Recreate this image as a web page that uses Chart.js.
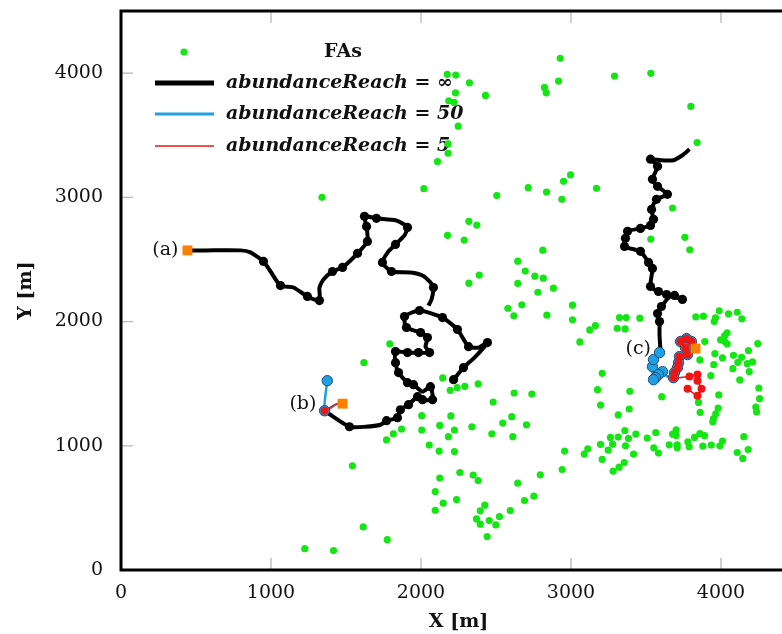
<!DOCTYPE html>
<html>
<head>
<meta charset="utf-8">
<script src="https://cdn.jsdelivr.net/npm/chart.js@4.4.1/dist/chart.umd.min.js"></script>
<style>
  html, body { margin: 0; padding: 0; overflow: hidden; background: #fff; }
  canvas { display: block; }
</style>
</head>
<body>
<canvas id="trajChart" width="820" height="634"></canvas>
<script>
// Axis ticks
const xTicks = [0, 1000, 2000, 3000, 4000];
const yTicks = [0, 1000, 2000, 3000, 4000];

// Foraging areas (FAs), [x, y] in metres
const faPoints = [
  [1340,3000],
  [2175,3990],[2232,3984],[2323,3922],[2230,3841],[2430,3820],[2185,3777],[2221,3764],[2248,3573],
  [2181,3430],[2181,3355],[2110,3288],[2019,3070],[2505,3014],[2715,3078],[2837,3043],[2939,2984],
  [2950,3129],[2997,3180],[3170,3073],[2928,4119],[2917,3936],[2823,3885],[2835,3841],[3290,3976],
  [2319,2807],[2372,2777],[2177,2694],[2288,2656],[2812,2575],[2645,2486],[2695,2406],[2759,2365],
  [2815,2349],[2388,2374],[2319,2309],[2645,2307],[2779,2236],[2883,2269],
  [3532,3998],[3799,3732],[3841,3441],[3677,2914],[3532,2664],[3759,2678],[3792,2578],
  [2579,2107],[2672,2135],[2619,2046],[2839,2051],[3010,2132],[3010,2014],[3125,1933],[3163,1968],
  [3059,1836],[3323,2032],[3368,2032],[3308,1946],[3361,1941],[3459,2027],[1792,1820],[2145,1546],
  [2195,1446],[2241,1468],[2292,1478],[2381,1498],[2481,1352],[2621,1425],[2739,1417],[2005,1242],
  [2199,1240],[2125,1164],[2223,1127],[2183,1073],[2005,1127],[2339,1153],[2545,1183],[2605,1234],
  [2703,1169],[2472,1097],[2612,1073],[1870,1135],[1815,1097],[1770,1048],[2055,1006],[2121,957],
  [2223,954],[2957,957],[2941,809],[2795,766],[2645,699],[2259,785],[2348,764],[2381,720],
  [2125,740],[2095,631],[2148,538],[2237,567],[2095,481],[2425,522],[2395,476],[2370,411],
  [2395,369],[2455,398],[2523,430],[2499,363],[2595,478],[2690,559],[2752,594],[2441,269],
  [1775,244],[3208,1583],[3177,1452],[3197,1328],[3392,1438],[3388,1296],[3315,1248],[3359,1123],
  [3432,1094],[3263,1067],[3315,1070],[3383,1059],[3277,1014],[3248,965],[3363,1000],[3417,933],
  [3197,1011],[3112,976],[3088,933],[3208,890],[3355,865],[3321,828],[3281,796],
  [3832,2038],[3883,2043],[3988,2086],[3963,2030],[3955,2000],[4050,2062],[4108,2075],[4139,2022],
  [3892,1839],[4041,1909],[4025,1887],[3997,1853],[4023,1841],[4041,1820],[4245,1823],[3859,1691],
  [3959,1742],[4010,1707],[3952,1653],[4083,1728],[4137,1712],[4112,1672],[4183,1766],[4210,1675],
  [4175,1661],[4079,1621],[4188,1597],[3932,1565],[4125,1530],[4252,1465],[4257,1379],[3985,1409],
  [3605,1395],[3850,1349],[3981,1304],[3861,1269],[3965,1258],[3950,1218],[3945,1194],[4232,1312],
  [4237,1272],[3508,1062],[3565,1107],[3552,984],[3583,941],[3655,1008],[3677,1094],[3701,1129],
  [3701,1083],[3708,1008],[3708,984],[3779,1032],[3788,992],[3823,1067],[3859,1099],[3890,1081],
  [3879,998],[3935,1006],[3992,1000],[4010,1038],[4152,1073],[4181,970],[4108,946],[4145,898],
  [1619,1669],[1543,839],[1615,347],[1225,172],[1417,156]
];

// Start positions (orange squares) and their labels
const startPoints = [[443,2573],[1477,1339],[3830,1782]];
const startLabels = ['(a)', '(b)', '(c)'];
const labelAnchors = [[383,2573],[1303,1339],[3533,1782]];

// abundanceReach = infinity (black), three trajectories
const infPathA = [
  [443,2573],[563,2573],[797,2573],[863,2557],[950,2484],[997,2403],[1063,2290],[1150,2274],
  [1243,2202],[1323,2169],[1323,2274],[1350,2339],[1410,2403],[1477,2436],[1530,2492],[1577,2549],
  [1643,2645],[1637,2766],[1623,2847],[1703,2831],[1830,2815],[1877,2790],[1910,2758],[1890,2694],
  [1830,2621],[1783,2565],[1743,2476],[1803,2403],[1930,2395],[2010,2371],[2063,2315],[2083,2274],
  [2070,2178],[2050,2129]
];
const infMarksA = [4,6,8,9,12,13,15,16,17,18,19,22,24,26,27,31];

const infPathB = [
  [1357,1282],[1523,1153],[1630,1153],[1730,1169],[1770,1202],[1843,1226],[1863,1290],[1917,1331],
  [1977,1395],[2010,1371],[2077,1371],[2063,1476],[2010,1436],[1950,1492],[1910,1508],[1850,1589],
  [1830,1669],[1830,1758],[1910,1750],[1983,1750],[2057,1750],[2030,1798],[2043,1871],[1997,1911],
  [1903,1952],[1890,2040],[1990,2089],[2143,2032],[2243,1936],[2317,1798],[2383,1790],[2443,1831],
  [2363,1718],[2283,1629],[2217,1532]
];
const infMarksB = [1,4,5,6,7,8,9,10,11,13,14,15,16,17,18,19,20,22,23,24,25,26,27,28,29,31,33,34];

const infPathC = [
  [3790,3387],[3743,3339],[3683,3299],[3597,3299],[3530,3307],[3577,3250],[3543,3145],[3577,3089],
  [3643,3024],[3570,2984],[3537,2903],[3550,2823],[3530,2774],[3463,2750],[3377,2726],[3363,2670],
  [3357,2605],[3463,2565],[3517,2476],[3543,2428],[3530,2282],[3583,2242],[3637,2218],[3690,2210],
  [3743,2178],[3663,2202],[3603,2121],[3577,2065],[3590,2000],[3590,1895],[3597,1758]
];
const infMarksC = [4,5,6,7,8,9,10,11,12,13,14,15,16,17,18,19,20,21,22,23,24,26,27,28];

// abundanceReach = 50 (blue)
const r50PathB = [[1477,1339],[1437,1335],[1357,1282],[1375,1524]];
const r50MarksB = [2,3];
const r50PathC = [
  [3830,1782],[3803,1839],[3770,1863],[3730,1839],[3763,1790],[3777,1734],[3723,1718],[3717,1669],
  [3710,1629],[3690,1589],[3683,1548],[3643,1557],[3610,1597],[3583,1573],[3563,1548],[3550,1532],
  [3543,1637],[3550,1694],[3590,1750]
];
const r50MarksC = [1,2,3,4,5,6,7,8,9,10,12,13,14,15,16,17,18];

// abundanceReach = 5 (red)
const r5PathB = [[1477,1339],[1437,1335],[1357,1282]];
const r5MarksB = [2];
const r5PathC = [
  [3830,1782],[3803,1839],[3770,1863],[3730,1839],[3763,1790],[3777,1734],[3723,1718],[3717,1669],
  [3710,1629],[3690,1589],[3683,1548],[3790,1557],[3843,1573],[3843,1524],[3870,1460],[3843,1403],
  [3777,1460]
];
const r5MarksC = [1,2,3,4,5,6,7,8,9,10,11,12,13,14,15,16];

const legendLabels = ['FAs', 'abundanceReach = \u221E', 'abundanceReach = 50', 'abundanceReach = 5'];

const GREEN = '#14e614';
const BLUE = '#1fa0e2';
const RED = '#ee1515';
const ORANGE = '#ff8000';
const SERIF = '"DejaVu Serif", "Liberation Serif", serif';

const toXY = pts => pts.map(([x, y]) => ({ x, y }));

function pathSet(pts, marks, opts) {
  return {
    data: toXY(pts),
    showLine: true,
    borderColor: opts.color,
    borderWidth: opts.width,
    tension: 0.2,
    pointRadius: ctx => marks.includes(ctx.dataIndex) ? opts.r : 0,
    pointBackgroundColor: opts.fill || opts.color,
    pointBorderColor: opts.edge || opts.color,
    pointBorderWidth: opts.edgeW || 0,
    order: opts.order
  };
}

const blackOpts = { color: '#000', width: 4, r: 4.6, order: 3 };
const blueOpts = { color: BLUE, width: 2.5, r: 5.2, edge: '#1c4d78', edgeW: 1, order: 2 };
const redOpts = { color: RED, width: 1.5, r: 4, order: 1 };

const datasets = [
  { data: toXY(startPoints), pointStyle: 'rect', pointRadius: 7, backgroundColor: ORANGE, borderWidth: 0, order: 0 },
  pathSet(r5PathB, r5MarksB, redOpts),
  pathSet(r5PathC, r5MarksC, redOpts),
  pathSet(r50PathB, r50MarksB, blueOpts),
  pathSet(r50PathC, r50MarksC, blueOpts),
  pathSet(infPathA, infMarksA, blackOpts),
  pathSet(infPathB, infMarksB, blackOpts),
  pathSet(infPathC, infMarksC, blackOpts),
  { data: toXY(faPoints), pointRadius: 3.6, backgroundColor: GREEN, borderWidth: 0, order: 4 }
];

// Inner tick marks, frame, legend and (a)/(b)/(c) labels
const decorPlugin = {
  id: 'decor',
  beforeDatasetsDraw(chart) {
    const { ctx, chartArea: a, scales: { x, y } } = chart;
    ctx.save();
    ctx.strokeStyle = '#b8b8b8';
    ctx.lineWidth = 1.3;
    ctx.beginPath();
    xTicks.forEach(v => {
      const px = x.getPixelForValue(v);
      ctx.moveTo(px, a.bottom); ctx.lineTo(px, a.bottom - 12);
      ctx.moveTo(px, a.top); ctx.lineTo(px, a.top + 12);
    });
    yTicks.forEach(v => {
      const py = y.getPixelForValue(v);
      ctx.moveTo(a.left, py); ctx.lineTo(a.left + 12, py);
      ctx.moveTo(a.right, py); ctx.lineTo(a.right - 12, py);
    });
    ctx.stroke();

    // legend (drawn beneath the data, as in the original)
    const rows = [52, 83, 114, 146];
    ctx.fillStyle = GREEN;
    ctx.beginPath(); ctx.arc(184, rows[0], 3.6, 0, Math.PI * 2); ctx.fill();
    ctx.fillStyle = '#111';
    ctx.textBaseline = 'middle';
    ctx.textAlign = 'center';
    ctx.font = 'bold 19px ' + SERIF;
    ctx.fillText(legendLabels[0], 343, rows[0]);
    const lineStyles = [['#000', 5], [BLUE, 3], [RED, 1.5]];
    ctx.textAlign = 'left';
    ctx.font = 'bold italic 19px ' + SERIF;
    lineStyles.forEach(([c, w], i) => {
      ctx.strokeStyle = c; ctx.lineWidth = w;
      ctx.beginPath(); ctx.moveTo(155, rows[i + 1]); ctx.lineTo(214, rows[i + 1]); ctx.stroke();
      ctx.fillText(legendLabels[i + 1], 226, rows[i + 1]);
    });
    ctx.restore();
  },
  afterDatasetsDraw(chart) {
    const { ctx, chartArea: a, scales: { x, y } } = chart;
    ctx.save();
    ctx.fillStyle = '#111';
    ctx.font = '19px ' + SERIF;
    ctx.textAlign = 'right';
    ctx.textBaseline = 'middle';
    labelAnchors.forEach(([lx, ly], i) => {
      ctx.fillText(startLabels[i], x.getPixelForValue(lx), y.getPixelForValue(ly));
    });
    ctx.strokeStyle = '#000';
    ctx.lineWidth = 3;
    ctx.strokeRect(a.left, a.top, a.right - a.left, a.bottom - a.top);
    ctx.restore();
  }
};

const tickFont = { family: SERIF, size: 19 };
const titleFont = { family: SERIF, size: 19, weight: 'bold' };

new Chart(document.getElementById('trajChart'), {
  type: 'scatter',
  data: { datasets },
  options: {
    responsive: false,
    animation: false,
    events: [],
    layout: { padding: { top: 11, right: 24, left: 0, bottom: 0 } },
    plugins: { legend: { display: false }, tooltip: { enabled: false } },
    scales: {
      x: {
        type: 'linear', min: 0, max: 4500,
        grid: { display: false }, border: { display: false },
        afterBuildTicks: s => { s.ticks = xTicks.map(v => ({ value: v })); },
        afterFit: s => { s.height = 64; s.paddingLeft = 0; s.paddingRight = 0; },
        ticks: { font: tickFont, color: '#111', padding: 4, maxRotation: 0, callback: v => String(v) },
        title: { display: true, text: 'X [m]', font: titleFont, color: '#111', padding: { top: 0, bottom: 1 } }
      },
      y: {
        type: 'linear', min: 0, max: 4500,
        grid: { display: false }, border: { display: false },
        afterBuildTicks: s => { s.ticks = yTicks.map(v => ({ value: v })); },
        afterFit: s => { s.width = 121; s.paddingTop = 0; s.paddingBottom = 0; },
        ticks: { font: tickFont, color: '#111', padding: 10, callback: v => String(v) },
        title: { display: true, text: 'Y [m]', font: titleFont, color: '#111', padding: { top: 15, bottom: 0 } }
      }
    }
  },
  plugins: [decorPlugin]
});
</script>
</body>
</html>
